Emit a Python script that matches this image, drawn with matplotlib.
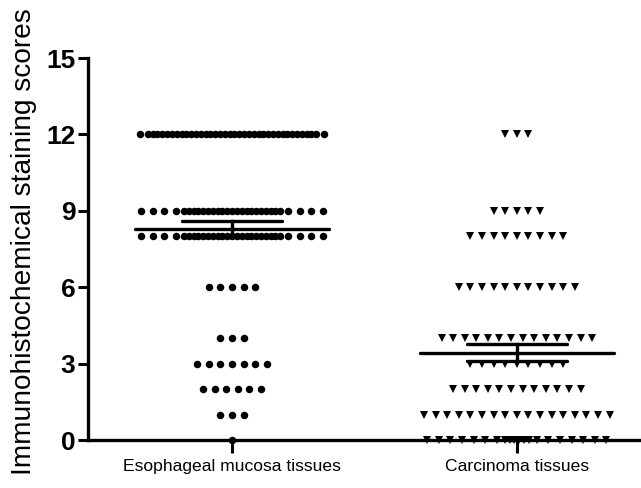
import numpy as np
import matplotlib
matplotlib.use("Agg")
import matplotlib.pyplot as plt

plt.rcParams['font.family'] = ['Liberation Sans', 'DejaVu Sans']

# ---- data ----
groups = ["Esophageal mucosa tissues", "Carcinoma tissues"]
score_levels_mucosa = [12, 9, 8, 6, 4, 3, 2, 1, 0]
counts_mucosa = [38, 29, 29, 5, 3, 7, 6, 3, 1]
score_levels_carcinoma = [12, 9, 8, 6, 4, 3, 2, 1, 0]
counts_carcinoma = [3, 5, 9, 11, 14, 9, 12, 17, 20]
mean_vals = [8.29, 3.43]
sem_vals = [0.31, 0.33]
yticks = [0, 3, 6, 9, 12, 15]

# ---- layout helpers (style only) ----
STEP = 0.0407
INNER = 0.0169
GAP = 0.028
outer_mucosa = {12: 1, 9: 4, 8: 4}
outer_carc = {0: 7}


def row_offsets(n, outer):
    if outer is None or n <= 2 * outer:
        return (np.arange(n) - (n - 1) / 2) * STEP
    m = n - 2 * outer
    mid = (np.arange(m) - (m - 1) / 2) * INNER
    edge = (m - 1) / 2 * INNER + GAP
    right = edge + np.arange(outer) * STEP
    return np.concatenate([-right[::-1], mid, right])


fig = plt.figure(figsize=(6.41, 4.88), dpi=100)
ax = fig.add_axes([88 / 641, 48 / 488, 553 / 641, 382 / 488])

for gi, (levels, counts, outers, marker, ms) in enumerate([
        (score_levels_mucosa, counts_mucosa, outer_mucosa, 'o', 5.4),
        (score_levels_carcinoma, counts_carcinoma, outer_carc, 'v', 6.2)]):
    xs, ys = [], []
    for lv, c in zip(levels, counts):
        off = row_offsets(c, outers.get(lv))
        xs.extend(gi + off)
        ys.extend([lv] * c)
    ax.plot(xs, ys, linestyle='none', marker=marker, ms=ms, color='black',
            markeredgewidth=0, clip_on=False, zorder=3)

for gi in range(2):
    m, s = mean_vals[gi], sem_vals[gi]
    ax.plot([gi - 0.34, gi + 0.34], [m, m], color='black', lw=2.4,
            solid_capstyle='round', zorder=4)
    for yy in (m - s, m + s):
        ax.plot([gi - 0.175, gi + 0.175], [yy, yy], color='black', lw=2.4,
                solid_capstyle='round', zorder=4)
    ax.plot([gi, gi], [m - s, m + s], color='black', lw=2.4, zorder=4)

ax.set_xlim(-0.506, 1.436)
ax.set_ylim(0, 15)
ax.set_yticks(yticks)
ax.set_yticklabels([str(t) for t in yticks], fontsize=19, fontweight='bold')
ax.set_xticks([0, 1])
ax.set_xticklabels(groups, fontsize=12.6)
ax.tick_params(axis='y', length=7, width=2.2, pad=2)
ax.tick_params(axis='x', length=9, width=2.2, pad=5)
for sp in ('top', 'right'):
    ax.spines[sp].set_visible(False)
for sp in ('left', 'bottom'):
    ax.spines[sp].set_linewidth(2.4)
ax.set_ylabel("Immunohistochemical staining scores", fontsize=20.2)
ax.yaxis.set_label_coords(-0.092, 0.52)

fig.savefig("out.png", dpi=100)
